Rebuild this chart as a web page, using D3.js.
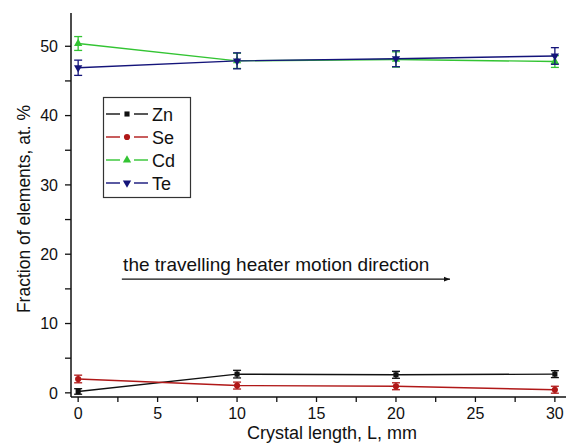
<!DOCTYPE html>
<html>
<head>
<meta charset="utf-8">
<script src="https://cdn.jsdelivr.net/npm/d3@7"></script>
<style>
  body { margin: 0; background: #fff; }
  text { font-family: "Liberation Sans", Arial, sans-serif; fill: #111; }
</style>
</head>
<body>
<script>
// crystal length positions, mm
const lengths = [0, 10, 20, 30];

// element fractions, at. %
const zn = [0.2, 2.7, 2.6, 2.7];
const se = [2.0, 1.05, 0.95, 0.45];
const cd = [50.4, 47.9, 48.1, 47.8];
const te = [46.9, 47.9, 48.2, 48.6];

// error bar half widths
const znErr = [0.4, 0.55, 0.5, 0.5];
const seErr = [0.55, 0.5, 0.5, 0.5];
const cdErr = [1.0, 1.1, 1.1, 0.85];
const teErr = [1.1, 1.15, 1.15, 1.2];

const names = ["Zn", "Se", "Cd", "Te"];
const xTicks = [0, 5, 10, 15, 20, 25, 30];
const yTicks = [0, 10, 20, 30, 40, 50];

const series = [
  {name: "Zn", vals: zn, err: znErr, color: "#111111", sym: d3.symbolSquare, size: 26, rot: 0},
  {name: "Se", vals: se, err: seErr, color: "#b01818", sym: d3.symbolCircle, size: 30, rot: 0},
  {name: "Cd", vals: cd, err: cdErr, color: "#33c433", sym: d3.symbolTriangle, size: 30, rot: 0},
  {name: "Te", vals: te, err: teErr, color: "#14147a", sym: d3.symbolTriangle, size: 30, rot: 180}
];

const width = 569, height = 444;

const svg = d3.select("body").append("svg")
    .attr("width", width)
    .attr("height", height);

const x = d3.scaleLinear().domain([-0.45, 30.7]).range([71, 566]);
const y = d3.scaleLinear().domain([-0.6, 54.8]).range([397, 13]);

// axes
const xAxis = svg.append("g").attr("transform", `translate(0,${y.range()[0]})`);
xAxis.append("line").attr("x1", x.range()[0]).attr("x2", x.range()[1]).attr("stroke", "#111").attr("stroke-width", 1.5);
xAxis.selectAll(".minor").data(d3.range(0, 30.1, 2.5)).join("line")
    .attr("x1", d => x(d)).attr("x2", d => x(d))
    .attr("y1", 0).attr("y2", 5).attr("stroke", "#111").attr("stroke-width", 1.3);
xAxis.selectAll(".lbl").data(xTicks).join("text")
    .attr("x", d => x(d)).attr("y", 22)
    .attr("text-anchor", "middle").attr("font-size", 16)
    .text(d => d);

const yAxis = svg.append("g").attr("transform", `translate(${x.range()[0]},0)`);
yAxis.append("line").attr("y1", y.range()[0]).attr("y2", y.range()[1]).attr("stroke", "#111").attr("stroke-width", 1.5);
yAxis.selectAll(".minor").data(d3.range(0, 50.1, 5)).join("line")
    .attr("y1", d => y(d)).attr("y2", d => y(d))
    .attr("x1", 0).attr("x2", -6).attr("stroke", "#111").attr("stroke-width", 1.3);
yAxis.selectAll(".lbl").data(yTicks).join("text")
    .attr("x", -13).attr("y", d => y(d) + 5.8)
    .attr("text-anchor", "end").attr("font-size", 16)
    .text(d => d);

svg.append("text")
    .attr("x", 332).attr("y", 439)
    .attr("text-anchor", "middle").attr("font-size", 18)
    .text("Crystal length, L, mm");

svg.append("text")
    .attr("transform", "translate(30,209) rotate(-90)")
    .attr("text-anchor", "middle").attr("font-size", 17.5)
    .text("Fraction of elements, at. %");

// data
const line = d3.line().x((d, i) => x(lengths[i])).y(d => y(d));

series.forEach(s => {
  const g = svg.append("g");
  g.append("path").datum(s.vals)
      .attr("d", line).attr("fill", "none")
      .attr("stroke", s.color).attr("stroke-width", 1.4);
  s.vals.forEach((v, i) => {
    const cx = x(lengths[i]);
    const top = y(v + s.err[i]), bot = y(v - s.err[i]);
    g.append("line").attr("x1", cx).attr("x2", cx).attr("y1", top).attr("y2", bot)
        .attr("stroke", s.color).attr("stroke-width", 1.3);
    [top, bot].forEach(yy => g.append("line")
        .attr("x1", cx - 4).attr("x2", cx + 4).attr("y1", yy).attr("y2", yy)
        .attr("stroke", s.color).attr("stroke-width", 1.3));
    g.append("path")
        .attr("d", d3.symbol(s.sym, s.size)())
        .attr("transform", `translate(${cx},${y(v)}) rotate(${s.rot})`)
        .attr("fill", s.color);
  });
});

// legend
const lg = svg.append("g");
lg.append("rect").attr("x", 103.5).attr("y", 97.5).attr("width", 87).attr("height", 100)
    .attr("fill", "#fff").attr("stroke", "#333").attr("stroke-width", 1.2);
series.forEach((s, i) => {
  const ly = 114 + i * 23;
  lg.append("line").attr("x1", 106).attr("x2", 120).attr("y1", ly).attr("y2", ly).attr("stroke", s.color).attr("stroke-width", 1.4);
  lg.append("line").attr("x1", 134).attr("x2", 148).attr("y1", ly).attr("y2", ly).attr("stroke", s.color).attr("stroke-width", 1.4);
  lg.append("path").attr("d", d3.symbol(s.sym, s.size)())
      .attr("transform", `translate(127,${ly}) rotate(${s.rot})`).attr("fill", s.color);
  lg.append("text").attr("x", 152).attr("y", ly + 6.5).attr("font-size", 18).text(names[i]);
});

// annotation
svg.append("defs").append("marker")
    .attr("id", "arr").attr("viewBox", "0 0 10 10").attr("refX", 10).attr("refY", 5)
    .attr("markerWidth", 8).attr("markerHeight", 6).attr("orient", "auto")
    .attr("markerUnits", "userSpaceOnUse")
    .append("path").attr("d", "M0,1 L10,5 L0,9 Z").attr("fill", "#111");

svg.append("text")
    .attr("x", x(2.83)).attr("y", y(17.6))
    .attr("font-size", 19)
    .text("the travelling heater motion direction");

svg.append("line")
    .attr("x1", x(2.75)).attr("x2", x(23.4))
    .attr("y1", y(16.4)).attr("y2", y(16.4))
    .attr("stroke", "#111").attr("stroke-width", 1.2)
    .attr("marker-end", "url(#arr)");
</script>
</body>
</html>
